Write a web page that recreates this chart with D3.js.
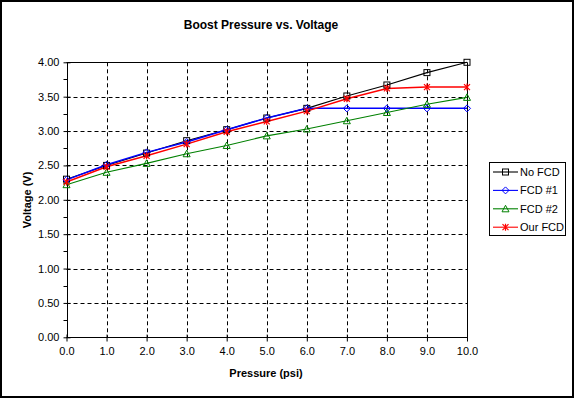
<!DOCTYPE html>
<html>
<head>
<meta charset="utf-8">
<script src="https://cdn.jsdelivr.net/npm/d3@7"></script>
<style>
  body { margin: 0; background: #fff; }
  text { font-family: "Liberation Sans", Arial, sans-serif; }
</style>
</head>
<body>
<div id="chart"></div>
<script>
// chart data
var pressure = [0, 1, 2, 3, 4, 5, 6, 7, 8, 9, 10];
var no_fcd   = [2.30, 2.50, 2.68, 2.86, 3.02, 3.19, 3.33, 3.51, 3.67, 3.85, 4.00];
var fcd_1    = [2.29, 2.51, 2.69, 2.84, 3.02, 3.19, 3.33, 3.33, 3.33, 3.33, 3.33];
var fcd_2    = [2.22, 2.40, 2.53, 2.67, 2.79, 2.93, 3.03, 3.15, 3.27, 3.39, 3.49];
var our_fcd  = [2.26, 2.48, 2.64, 2.81, 2.99, 3.14, 3.29, 3.47, 3.62, 3.64, 3.64];
var series_names = ['No FCD', 'FCD #1', 'FCD #2', 'Our FCD'];
var x_ticks = [0, 1, 2, 3, 4, 5, 6, 7, 8, 9, 10];
var y_ticks = [0, 0.5, 1, 1.5, 2, 2.5, 3, 3.5, 4];

var series = [
    {name: series_names[0], values: no_fcd,  color: '#000000', marker: 'square'},
    {name: series_names[1], values: fcd_1,   color: '#0000ff', marker: 'diamond'},
    {name: series_names[2], values: fcd_2,   color: '#008000', marker: 'triangle'},
    {name: series_names[3], values: our_fcd, color: '#ff0000', marker: 'star'}
];

var chart_width  = 575;
var chart_height = 399;
var plot_left = 66.5, plot_right = 467, plot_top = 62.3, plot_bottom = 337.3;

var svg = d3.select('#chart').append('svg')
    .attr('width', chart_width)
    .attr('height', chart_height);

// outer frame
svg.append('rect')
    .attr('x', 1).attr('y', 1)
    .attr('width', 572).attr('height', 396)
    .attr('fill', '#fff').attr('stroke', '#000').attr('stroke-width', 2);

var x_scale = d3.scaleLinear().domain([0, 10]).range([plot_left, plot_right]);
var y_scale = d3.scaleLinear().domain([0, 4]).range([plot_bottom, plot_top]);

function snap(v) { return Math.round(v) + 0.5; }

// grid
svg.append('g').selectAll('line')
    .data(y_ticks.slice(1, -1))
    .enter().append('line')
    .attr('x1', plot_left).attr('x2', plot_right)
    .attr('y1', function(d) { return snap(y_scale(d)); })
    .attr('y2', function(d) { return snap(y_scale(d)); })
    .attr('stroke', '#000').attr('stroke-dasharray', '4,3');

svg.append('g').selectAll('line')
    .data(x_ticks.slice(1, -1))
    .enter().append('line')
    .attr('y1', plot_top).attr('y2', plot_bottom)
    .attr('x1', function(d) { return snap(x_scale(d)); })
    .attr('x2', function(d) { return snap(x_scale(d)); })
    .attr('stroke', '#000').attr('stroke-dasharray', '4,3');

// plot border (top & right)
svg.append('path')
    .attr('d', 'M' + plot_left + ',' + snap(plot_top) + 'H' + snap(plot_right) + 'V' + plot_bottom)
    .attr('fill', 'none').attr('stroke', '#000');

// axes
var x_axis = d3.axisBottom(x_scale)
    .tickValues(x_ticks)
    .tickSize(4)
    .tickFormat(d3.format('.1f'));
var gx = svg.append('g')
    .attr('transform', 'translate(0,' + snap(plot_bottom) + ')')
    .call(x_axis);
gx.select('.domain').attr('d', 'M' + plot_left + ',0H' + plot_right);
gx.selectAll('.tick line').attr('y1', -3).attr('y2', 4);
gx.selectAll('text').attr('y', 10).attr('font-size', '11px')
    .attr('font-family', '"Liberation Sans", Arial, sans-serif');

var y_axis = d3.axisLeft(y_scale)
    .tickValues(y_ticks)
    .tickSize(4)
    .tickFormat(d3.format('.2f'));
var gy = svg.append('g')
    .attr('transform', 'translate(' + snap(plot_left) + ',0)')
    .call(y_axis);
gy.select('.domain').attr('d', 'M0,' + plot_top + 'V' + plot_bottom);
gy.selectAll('.tick line').attr('x1', 3).attr('x2', -4);
gy.selectAll('text').attr('x', -8).attr('font-size', '11px')
    .attr('font-family', '"Liberation Sans", Arial, sans-serif');

// minor ticks on y axis
gy.selectAll('.minor')
    .data(d3.range(0.25, 4, 0.5))
    .enter().append('line')
    .attr('x1', -4).attr('x2', 0)
    .attr('y1', function(d) { return snap(y_scale(d)); })
    .attr('y2', function(d) { return snap(y_scale(d)); })
    .attr('stroke', '#000');

// markers
function drawMarker(g, type, color) {
    if (type === 'square') {
        g.append('rect').attr('x', -3).attr('y', -3).attr('width', 6).attr('height', 6)
            .attr('fill', 'none').attr('stroke', color);
    } else if (type === 'diamond') {
        g.append('path').attr('d', 'M0,-3.5L3.5,0L0,3.5L-3.5,0Z')
            .attr('fill', 'none').attr('stroke', color);
    } else if (type === 'triangle') {
        g.append('path').attr('d', 'M0,-3.5L3.5,3L-3.5,3Z')
            .attr('fill', 'none').attr('stroke', color);
    } else {
        g.append('path').attr('d', 'M-3,-3L3,3M-3,3L3,-3M0,-3.5V3.5')
            .attr('fill', 'none').attr('stroke', color).attr('stroke-width', 1.2);
    }
}

var line = d3.line()
    .x(function(d, i) { return x_scale(pressure[i]); })
    .y(function(d) { return y_scale(d); });

series.forEach(function(s) {
    svg.append('path')
        .datum(s.values)
        .attr('d', line)
        .attr('fill', 'none')
        .attr('stroke', s.color)
        .attr('stroke-width', s.marker === 'diamond' || s.marker === 'star' ? 1.5 : 1.1);
});

series.forEach(function(s) {
    s.values.forEach(function(v, i) {
        var g = svg.append('g')
            .attr('transform', 'translate(' + x_scale(pressure[i]) + ',' + y_scale(v) + ')');
        drawMarker(g, s.marker, s.color);
    });
});

// title and axis labels
svg.append('text')
    .attr('x', 261).attr('y', 29)
    .attr('text-anchor', 'middle')
    .attr('font-size', '12px').attr('font-weight', 'bold')
    .text('Boost Pressure vs. Voltage');

svg.append('text')
    .attr('x', 266).attr('y', 377)
    .attr('text-anchor', 'middle')
    .attr('font-size', '11px').attr('font-weight', 'bold')
    .text('Pressure (psi)');

svg.append('text')
    .attr('transform', 'translate(31,200) rotate(-90)')
    .attr('text-anchor', 'middle')
    .attr('font-size', '11px').attr('font-weight', 'bold')
    .text('Voltage (V)');

// legend
var legend = svg.append('g');
legend.append('rect')
    .attr('x', 489.5).attr('y', 162.5)
    .attr('width', 76).attr('height', 73)
    .attr('fill', '#fff').attr('stroke', '#000');

series.forEach(function(s, i) {
    var y = 172 + i * 18.4;
    var g = legend.append('g');
    g.append('line')
        .attr('x1', 493).attr('x2', 518)
        .attr('y1', y).attr('y2', y)
        .attr('stroke', s.color).attr('stroke-width', 1.1);
    drawMarker(g.append('g').attr('transform', 'translate(505.5,' + y + ')'), s.marker, s.color);
    g.append('text')
        .attr('x', 520).attr('y', y + 4)
        .attr('font-size', '11px')
        .text(s.name);
});
</script>
</body>
</html>
